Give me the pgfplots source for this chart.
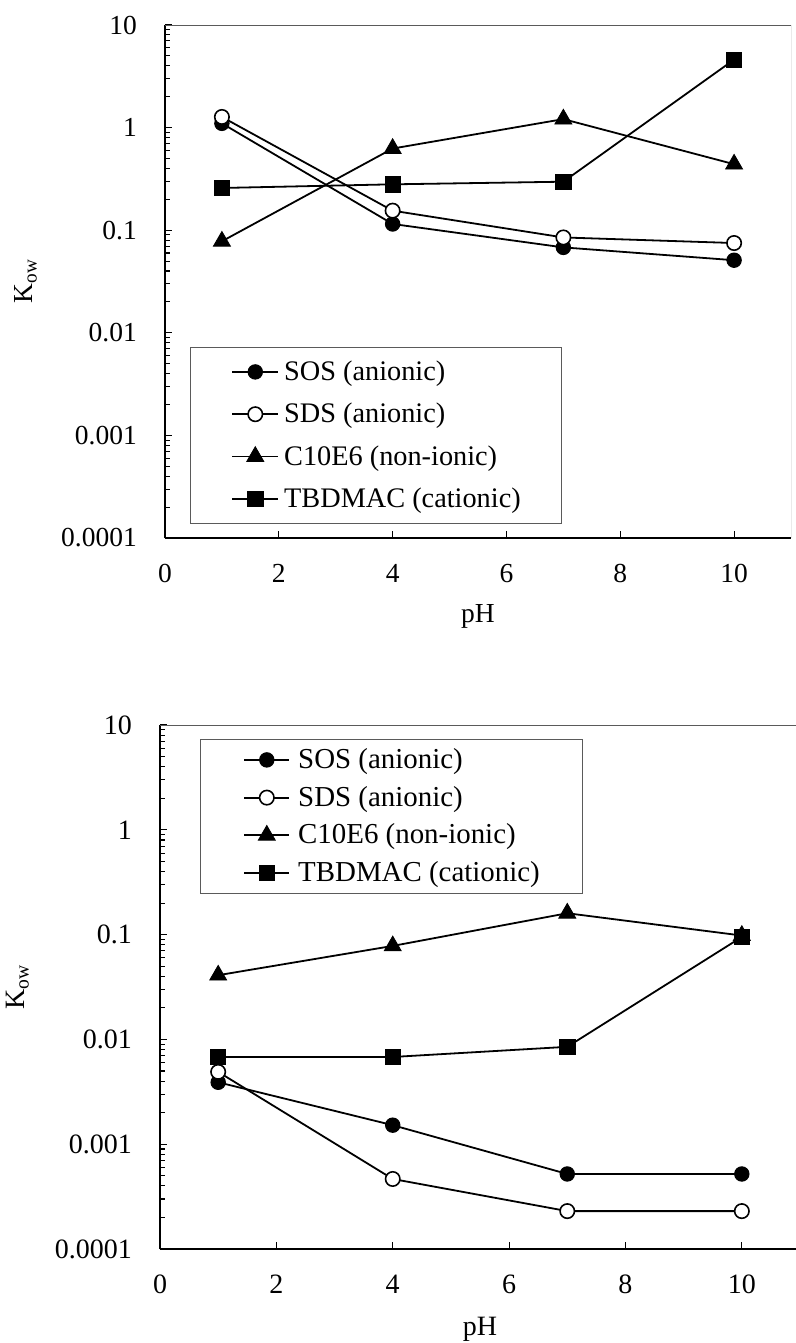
\documentclass[border=0pt]{standalone}
\usepackage{fontspec}
\setmainfont{Liberation Serif}
\usepackage{pgfplots}
\pgfplotsset{compat=1.18}
\definecolor{framegray}{RGB}{90,90,90}
\newcommand{\fa}{\fontsize{27.5}{33}\selectfont}
\newcommand{\fb}{\fontsize{28}{34}\selectfont}
\begin{document}
\fa
\begin{tikzpicture}[font=\fa]
\path[use as bounding box] (0,0) rectangle (795pt,-1343pt);
% ---------- top panel ----------
\begin{axis}[
  scale only axis,
  ymode=log,
  /pgf/number format/assume math mode=true,
  log ticks with fixed point,
  /pgf/number format/precision=4,
  xmin=0, xmax=11, ymin=1e-4, ymax=10,
  axis x line*=bottom, axis y line*=left,
  axis line style={line width=1.5pt, -},
  xtick={0,2,4,6,8,10},
  ytick={1e-4,1e-3,1e-2,1e-1,1,10},
  minor xtick={},
  minor ytick={2e-4,3e-4,4e-4,5e-4,6e-4,7e-4,8e-4,9e-4,
               2e-3,3e-3,4e-3,5e-3,6e-3,7e-3,8e-3,9e-3,
               2e-2,3e-2,4e-2,5e-2,6e-2,7e-2,8e-2,9e-2,
               0.2,0.3,0.4,0.5,0.6,0.7,0.8,0.9,
               2,3,4,5,6,7,8,9},
  tick align=inside,
  major tick length=7pt, minor tick length=5pt,
  tick style={line width=1.1pt, black},
  yticklabel style={anchor=east, inner sep=0pt, xshift=-28pt, font=\fa},
  xticklabel style={anchor=north, inner sep=0pt, yshift=-26pt, font=\fa},
  xlabel={pH},
  ylabel={K\textsubscript{ow}},
  xlabel style={at={(rel axis cs:0.5,0)}, anchor=base, yshift=-84pt, font=\fa},
  ylabel style={at={(rel axis cs:0,0.5)}, anchor=base, yshift=132pt, font=\fa},
  legend cell align=left,
  at={(165pt,-538pt)}, anchor=south west,
  width=626pt, height=513pt,
  legend style={at={(rel axis cs:0.0399,0.3723)}, anchor=north west,
    draw=framegray, line width=0.8pt,
    inner xsep=41pt, inner ysep=10pt, row sep=13.3pt, column sep=5pt,
    font=\fontsize{28.3}{34}\selectfont,
    nodes={inner sep=0pt, text height=23pt, text depth=6pt}},
  legend image code/.code={\draw[mark repeat=2,mark phase=2,#1] plot coordinates {(0pt,0pt) (23pt,0pt) (46pt,0pt)};},
]
\addplot[black, line width=1.8pt, mark=*, mark size=7.2pt, mark options={solid, fill=black, line width=1pt}] coordinates {(1,1.1) (4,0.115) (7,0.068) (10,0.051)};
\addlegendentry{SOS (anionic)}
\addplot[black, line width=1.8pt, mark=*, mark size=7.2pt, mark options={solid, fill=white, line width=1.6pt}] coordinates {(1,1.27) (4,0.155) (7,0.085) (10,0.075)};
\addlegendentry{SDS (anionic)}
\addplot[black, line width=1.8pt, mark=triangle*, mark size=9.8pt, mark options={solid, fill=black, line width=0.8pt}] coordinates {(1,0.078) (4,0.625) (7,1.21) (10,0.44)};
\addlegendentry{C10E6 (non-ionic)}
\addplot[black, line width=1.8pt, mark=square*, mark size=7.7pt, mark options={solid, fill=black, line width=0.8pt}] coordinates {(1,0.258) (4,0.28) (7,0.297) (10,4.6)};
\addlegendentry{TBDMAC (cationic)}
\draw[framegray, line width=0.8pt] (rel axis cs:0,1) -- (rel axis cs:1,1) -- (rel axis cs:1,0);
\end{axis}
% ---------- bottom panel ----------
\begin{axis}[
  scale only axis,
  ymode=log,
  /pgf/number format/assume math mode=true,
  log ticks with fixed point,
  /pgf/number format/precision=4,
  xmin=0, xmax=11, ymin=1e-4, ymax=10,
  axis x line*=bottom, axis y line*=left,
  axis line style={line width=1.5pt, -},
  xtick={0,2,4,6,8,10},
  ytick={1e-4,1e-3,1e-2,1e-1,1,10},
  minor xtick={},
  minor ytick={2e-4,3e-4,4e-4,5e-4,6e-4,7e-4,8e-4,9e-4,
               2e-3,3e-3,4e-3,5e-3,6e-3,7e-3,8e-3,9e-3,
               2e-2,3e-2,4e-2,5e-2,6e-2,7e-2,8e-2,9e-2,
               0.2,0.3,0.4,0.5,0.6,0.7,0.8,0.9,
               2,3,4,5,6,7,8,9},
  tick align=inside,
  major tick length=7pt, minor tick length=5pt,
  tick style={line width=1.1pt, black},
  yticklabel style={anchor=east, inner sep=0pt, xshift=-28pt, font=\fb},
  xticklabel style={anchor=north, inner sep=0pt, yshift=-26pt, font=\fb},
  xlabel={pH},
  ylabel={K\textsubscript{ow}},
  xlabel style={at={(rel axis cs:0.5,0)}, anchor=base, yshift=-86pt, font=\fb},
  ylabel style={at={(rel axis cs:0,0.5)}, anchor=base, yshift=135pt, font=\fb},
  legend cell align=left,
  at={(160pt,-1249pt)}, anchor=south west,
  width=640pt, height=524pt,
  legend style={at={(rel axis cs:0.0625,0.9733)}, anchor=north west,
    draw=framegray, line width=0.8pt,
    inner xsep=43pt, inner ysep=6pt, row sep=8.7pt, column sep=8pt,
    font=\fontsize{28.9}{35}\selectfont,
    nodes={inner sep=0pt, text height=23pt, text depth=6pt}},
  legend image code/.code={\draw[mark repeat=2,mark phase=2,#1] plot coordinates {(0pt,0pt) (22.5pt,0pt) (45pt,0pt)};},
]
\addplot[black, line width=1.8pt, mark=*, mark size=7.2pt, mark options={solid, fill=black, line width=1pt}] coordinates {(1,0.0039) (4,0.00152) (7,0.00052) (10,0.00052)};
\addlegendentry{SOS (anionic)}
\addplot[black, line width=1.8pt, mark=*, mark size=7.2pt, mark options={solid, fill=white, line width=1.6pt}] coordinates {(1,0.0049) (4,0.000466) (7,0.00023) (10,0.00023)};
\addlegendentry{SDS (anionic)}
\addplot[black, line width=1.8pt, mark=triangle*, mark size=9.8pt, mark options={solid, fill=black, line width=0.8pt}] coordinates {(1,0.041) (4,0.078) (7,0.16) (10,0.098)};
\addlegendentry{C10E6 (non-ionic)}
\addplot[black, line width=1.8pt, mark=square*, mark size=7.7pt, mark options={solid, fill=black, line width=0.8pt}] coordinates {(1,0.0068) (4,0.0068) (7,0.0085) (10,0.095)};
\addlegendentry{TBDMAC (cationic)}
\draw[framegray, line width=0.8pt] (rel axis cs:0,1) -- (rel axis cs:1,1) -- (rel axis cs:1,0);
\end{axis}
\end{tikzpicture}
\end{document}
